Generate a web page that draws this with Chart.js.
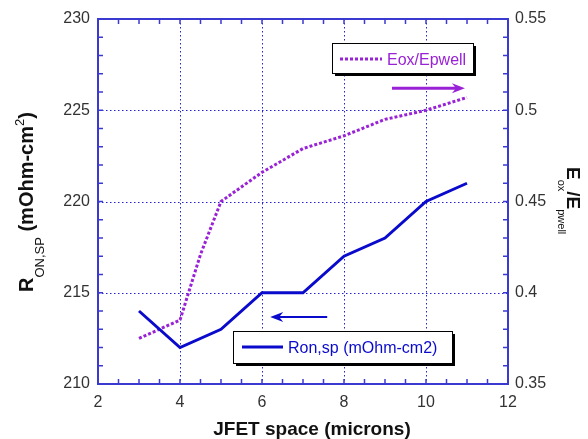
<!DOCTYPE html>
<html>
<head>
<meta charset="utf-8">
<script src="https://cdn.jsdelivr.net/npm/chart.js@4.4.1/dist/chart.umd.min.js"></script>
<style>
  html, body { margin: 0; padding: 0; background: #fff; }
  #wrap { position: relative; width: 588px; height: 439px; }
</style>
</head>
<body>
<div id="wrap"><canvas id="c"></canvas></div>
<script>
(function () {
  "use strict";

  /* ---- data ------------------------------------------------------- */
  var ronX = [3, 4, 5, 6, 7, 8, 9, 10, 11];
  var ronVals = [214, 212, 213, 215, 215, 217, 218, 220, 221];
  var eoxX = [3, 4, 4.5, 5, 6, 7, 8, 9, 10, 11];
  var eoxVals = [0.375, 0.385, 0.421, 0.45, 0.466, 0.479, 0.486, 0.495, 0.5, 0.507];

  var xTicks = [2, 4, 6, 8, 10, 12];
  var leftTicks = [210, 215, 220, 225, 230];
  var rightTicks = [0.35, 0.4, 0.45, 0.5, 0.55];

  var ronLabel = "Ron,sp (mOhm-cm2)";
  var eoxLabel = "Eox/Epwell";

  /* arrows: [x0, x1, y(left axis)] drawn from x0 towards x1 */
  var eoxArrow = [9.17, 10.95, 226.2];
  var ronArrow = [7.59, 6.2, 213.67];

  /* ---- style ------------------------------------------------------ */
  var FONT = '"Liberation Sans", Arial, sans-serif';
  var BLUE = "#0a0acc";
  var PURPLE = "#9a22d6";
  var AXIS = "#3a3ad2";
  var GRID = "#2424cc";
  var TXT = "#333";

  var pts = function (xs, ys) {
    return xs.map(function (x, i) { return { x: x, y: ys[i] }; });
  };

  var line = function (ctx, x1, y1, x2, y2) {
    ctx.beginPath(); ctx.moveTo(x1, y1); ctx.lineTo(x2, y2); ctx.stroke();
  };

  var legendBox = function (ctx, x, y, w, h) {
    ctx.fillStyle = "#000";
    ctx.fillRect(x + 3, y + 3, w, h);
    ctx.fillStyle = "#fff";
    ctx.fillRect(x, y, w, h);
    ctx.strokeStyle = "#000";
    ctx.lineWidth = 1;
    ctx.strokeRect(x + 0.5, y + 0.5, w, h);
  };

  var arrow = function (ctx, sx, sy, a, color, width) {
    var x0 = sx.getPixelForValue(a[0]);
    var x1 = sx.getPixelForValue(a[1]);
    var y = sy.getPixelForValue(a[2]);
    var dir = x1 > x0 ? 1 : -1;
    ctx.strokeStyle = color;
    ctx.fillStyle = color;
    ctx.lineWidth = width;
    line(ctx, x0, y, x1 - dir * 8, y);
    ctx.beginPath();
    ctx.moveTo(x1, y);
    ctx.lineTo(x1 - dir * 13, y - 5);
    ctx.lineTo(x1 - dir * 9, y);
    ctx.lineTo(x1 - dir * 13, y + 5);
    ctx.closePath();
    ctx.fill();
  };

  /* draws a run of [text, font, baselineShift] pieces along the current x axis */
  var richText = function (ctx, parts) {
    var adv = 0;
    parts.forEach(function (p) {
      ctx.font = p[1];
      ctx.fillText(p[0], adv, p[2]);
      adv += ctx.measureText(p[0]).width;
    });
  };

  /* ---- frame, grid, inward ticks, legends, titles ------------------ */
  var frame = {
    id: "frame",
    beforeDatasetsDraw: function (chart) {
      var ctx = chart.ctx, a = chart.chartArea;
      var sx = chart.scales.x, sy = chart.scales.y;
      ctx.save();
      ctx.strokeStyle = GRID;
      ctx.lineWidth = 1;
      ctx.setLineDash([1.5, 2.5]);
      xTicks.slice(1, -1).forEach(function (v) {
        var px = Math.round(sx.getPixelForValue(v)) + 0.5;
        line(ctx, px, a.top, px, a.bottom);
      });
      leftTicks.slice(1, -1).forEach(function (v) {
        var py = Math.round(sy.getPixelForValue(v)) + 0.5;
        line(ctx, a.left, py, a.right, py);
      });
      ctx.setLineDash([]);

      ctx.strokeStyle = AXIS;
      ctx.lineWidth = 1.5;
      var v, p;
      for (v = 2; v <= 12.001; v += 0.5) {
        p = sx.getPixelForValue(v);
        line(ctx, p, a.bottom, p, a.bottom - 5);
        line(ctx, p, a.top, p, a.top + 5);
      }
      for (v = 210; v <= 230.001; v += 1) {
        p = sy.getPixelForValue(v);
        line(ctx, a.left, p, a.left + 5, p);
        line(ctx, a.right, p, a.right - 5, p);
      }
      ctx.lineWidth = 2;
      ctx.strokeRect(a.left, a.top, a.right - a.left, a.bottom - a.top);
      ctx.restore();
    },
    afterDraw: function (chart) {
      var ctx = chart.ctx;
      var sx = chart.scales.x, sy = chart.scales.y;
      ctx.save();
      ctx.textBaseline = "alphabetic";
      ctx.textAlign = "left";

      /* legends */
      legendBox(ctx, 332, 43, 141, 30);
      ctx.strokeStyle = PURPLE;
      ctx.lineWidth = 3;
      ctx.setLineDash([3, 2]);
      line(ctx, 340, 59, 382, 59);
      ctx.setLineDash([]);
      ctx.fillStyle = PURPLE;
      ctx.font = "16px " + FONT;
      ctx.fillText(eoxLabel, 387, 65);

      legendBox(ctx, 233, 331, 219, 32);
      ctx.strokeStyle = BLUE;
      ctx.lineWidth = 3;
      line(ctx, 242, 347, 283, 347);
      ctx.fillStyle = BLUE;
      ctx.fillText(ronLabel, 288, 353);

      /* arrows */
      arrow(ctx, sx, sy, eoxArrow, PURPLE, 3);
      arrow(ctx, sx, sy, ronArrow, BLUE, 2);

      /* axis titles */
      ctx.fillStyle = "#111";
      ctx.font = "bold 19px " + FONT;
      ctx.textAlign = "center";
      ctx.fillText("JFET space (microns)", 312, 435);
      ctx.textAlign = "left";

      ctx.save();
      ctx.translate(33, 292);
      ctx.rotate(-Math.PI / 2);
      richText(ctx, [
        ["R", "bold 20px " + FONT, 0],
        ["ON,SP", "13px " + FONT, 11],
        [" (mOhm-cm", "bold 20px " + FONT, 0],
        ["2", "13px " + FONT, -9],
        [")", "bold 20px " + FONT, 0]
      ]);
      ctx.restore();

      ctx.save();
      ctx.translate(567, 167);
      ctx.rotate(Math.PI / 2);
      richText(ctx, [
        ["E", "bold 19px " + FONT, 0],
        ["ox", "11px " + FONT, 9],
        ["/E", "bold 19px " + FONT, 0],
        ["pwell", "11px " + FONT, 9]
      ]);
      ctx.restore();

      ctx.restore();
    }
  };

  var tickFont = { family: FONT, size: 16 };

  new Chart(document.getElementById("c"), {
    type: "line",
    data: {
      datasets: [{
        label: ronLabel,
        data: pts(ronX, ronVals),
        yAxisID: "y",
        borderColor: BLUE,
        backgroundColor: BLUE,
        borderWidth: 3,
        pointRadius: 0,
        tension: 0
      }, {
        label: eoxLabel,
        data: pts(eoxX, eoxVals),
        yAxisID: "y2",
        borderColor: PURPLE,
        backgroundColor: PURPLE,
        borderWidth: 3,
        borderDash: [3, 2],
        pointRadius: 0,
        tension: 0
      }]
    },
    options: {
      responsive: true,
      maintainAspectRatio: false,
      animation: false,
      devicePixelRatio: 1,
      layout: { padding: { top: 19, left: 0, right: 0, bottom: 0 } },
      plugins: { legend: { display: false }, tooltip: { enabled: false } },
      scales: {
        x: {
          type: "linear",
          min: 2, max: 12,
          afterFit: function (s) { s.height = 55; },
          afterBuildTicks: function (s) { s.ticks = xTicks.map(function (v) { return { value: v }; }); },
          grid: { display: false, drawTicks: false },
          border: { display: false },
          ticks: { color: TXT, font: tickFont, padding: 9, maxRotation: 0, autoSkip: false }
        },
        y: {
          position: "left",
          min: 210, max: 230,
          afterFit: function (s) { s.width = 98; },
          afterBuildTicks: function (s) { s.ticks = leftTicks.map(function (v) { return { value: v }; }); },
          grid: { display: false, drawTicks: false },
          border: { display: false },
          ticks: { color: TXT, font: tickFont, padding: 8, autoSkip: false }
        },
        y2: {
          position: "right",
          min: 0.35, max: 0.55,
          afterFit: function (s) { s.width = 80; },
          afterBuildTicks: function (s) { s.ticks = rightTicks.map(function (v) { return { value: v }; }); },
          grid: { display: false, drawTicks: false },
          border: { display: false },
          ticks: {
            color: TXT, font: tickFont, padding: 7, autoSkip: false,
            callback: function (v) { return String(Math.round(v * 100) / 100); }
          }
        }
      }
    },
    plugins: [frame]
  });
})();
</script>
</body>
</html>
